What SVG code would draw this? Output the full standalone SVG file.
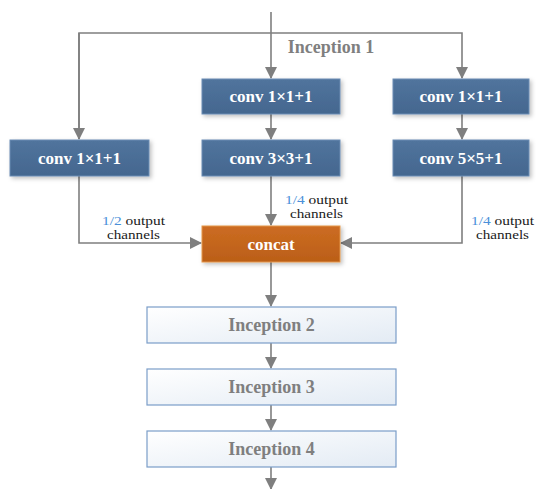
<svg xmlns="http://www.w3.org/2000/svg" width="536" height="489" viewBox="0 0 536 489">
<style>
.conn{fill:none;stroke:#7f7f7f;stroke-width:1.6}
.blue{fill:url(#gBlue);stroke:#6a8cb3;stroke-width:1}
.inc{fill:url(#gInc);stroke:#7b9dc8;stroke-width:1.2}
.wt{font-family:"Liberation Serif",serif;font-weight:bold;font-size:17px;fill:#ffffff;text-anchor:middle}
.gt{font-family:"Liberation Serif",serif;font-weight:bold;font-size:18px;fill:#7f7f7f;text-anchor:middle}
.lb{font-family:"Liberation Serif",serif;font-size:12.5px;fill:#1a1a1a}
.bl{fill:#4a90d9}
</style>
<defs>
<linearGradient id="gBlue" x1="0" y1="0" x2="0" y2="1">
<stop offset="0" stop-color="#51749d"/>
<stop offset="1" stop-color="#44678f"/>
</linearGradient>
<linearGradient id="gOr" x1="0" y1="0" x2="0" y2="1">
<stop offset="0" stop-color="#cc6c22"/>
<stop offset="1" stop-color="#bb5f18"/>
</linearGradient>
<linearGradient id="gInc" x1="0" y1="0" x2="1" y2="1">
<stop offset="0" stop-color="#ffffff"/>
<stop offset="1" stop-color="#e3ebf4"/>
</linearGradient>
<filter id="sh" x="-10%" y="-20%" width="130%" height="160%">
<feDropShadow dx="2" dy="2" stdDeviation="2" flood-color="#000" flood-opacity="0.25"/>
</filter>
<marker id="ar" markerUnits="userSpaceOnUse" markerWidth="12" markerHeight="12" viewBox="0 0 12 12" refX="11" refY="6" orient="auto">
<path d="M0,0 L12,6 L0,12 Z" fill="#7f7f7f"/>
</marker>
</defs>

<g id="connectors">
<path class="conn" d="M271,12 V78" marker-end="url(#ar)"/>
<path class="conn" d="M79,139 V33 H462 V78" marker-end="url(#ar)"/>
<path class="conn" d="M79,33 V139" marker-end="url(#ar)"/>
<path class="conn" d="M271,114 V139" marker-end="url(#ar)"/>
<path class="conn" d="M462,114 V139" marker-end="url(#ar)"/>
<path class="conn" d="M271,176 V225" marker-end="url(#ar)"/>
<path class="conn" d="M79,176 V243 H201" marker-end="url(#ar)"/>
<path class="conn" d="M462,176 V243 H341" marker-end="url(#ar)"/>
<path class="conn" d="M271,262 V306" marker-end="url(#ar)"/>
<path class="conn" d="M271,343 V368" marker-end="url(#ar)"/>
<path class="conn" d="M271,405 V430" marker-end="url(#ar)"/>
<path class="conn" d="M271,467 V489" marker-end="url(#ar)"/>
</g>

<g id="label-inception1"><text class="gt" x="331" y="53">Inception 1</text></g>

<g id="conv-mid-1x1">
<rect class="blue" filter="url(#sh)" x="202" y="79" width="138" height="35"/>
<text class="wt" x="271" y="102">conv 1×1+1</text>
</g>
<g id="conv-right-1x1">
<rect class="blue" filter="url(#sh)" x="393" y="79" width="136" height="35"/>
<text class="wt" x="461" y="102">conv 1×1+1</text>
</g>
<g id="conv-left-1x1">
<rect class="blue" filter="url(#sh)" x="10" y="140" width="139" height="36"/>
<text class="wt" x="79.5" y="164">conv 1×1+1</text>
</g>
<g id="conv-3x3">
<rect class="blue" filter="url(#sh)" x="202" y="140" width="138" height="36"/>
<text class="wt" x="271" y="164">conv 3×3+1</text>
</g>
<g id="conv-5x5">
<rect class="blue" filter="url(#sh)" x="393" y="140" width="136" height="36"/>
<text class="wt" x="461" y="164">conv 5×5+1</text>
</g>

<g id="label-mid"><text class="lb" x="285" y="204" textLength="63" lengthAdjust="spacingAndGlyphs"><tspan class="bl">1/4</tspan> output</text><text class="lb" x="290" y="218" textLength="53" lengthAdjust="spacingAndGlyphs">channels</text></g>
<g id="label-left"><text class="lb" x="102" y="225" textLength="63" lengthAdjust="spacingAndGlyphs"><tspan class="bl">1/2</tspan> output</text><text class="lb" x="107" y="239" textLength="53" lengthAdjust="spacingAndGlyphs">channels</text></g>
<g id="label-right"><text class="lb" x="471" y="225" textLength="63" lengthAdjust="spacingAndGlyphs"><tspan class="bl">1/4</tspan> output</text><text class="lb" x="476" y="239" textLength="53" lengthAdjust="spacingAndGlyphs">channels</text></g>

<g id="concat">
<rect fill="url(#gOr)" stroke="#e39548" stroke-width="1" filter="url(#sh)" x="202" y="226" width="138" height="36"/>
<text class="wt" x="271" y="250">concat</text>
</g>

<g id="inception2">
<rect class="inc" x="147" y="307" width="249" height="36"/>
<text class="gt" x="271.5" y="331">Inception 2</text>
</g>
<g id="inception3">
<rect class="inc" x="147" y="369" width="249" height="36"/>
<text class="gt" x="271.5" y="393">Inception 3</text>
</g>
<g id="inception4">
<rect class="inc" x="147" y="431" width="249" height="36"/>
<text class="gt" x="271.5" y="455">Inception 4</text>
</g>
</svg>
